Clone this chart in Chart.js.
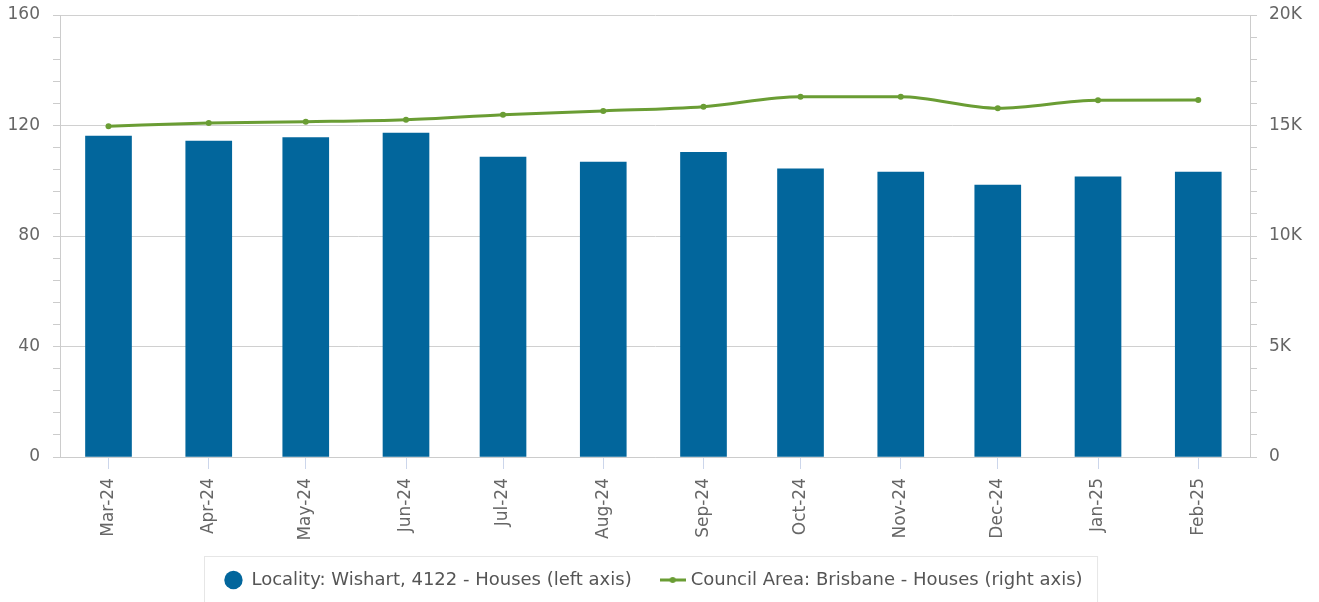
<!DOCTYPE html>
<html>
<head>
<meta charset="utf-8">
<script src="https://cdn.jsdelivr.net/npm/chart.js@4/dist/chart.umd.min.js"></script>
<style>
  html, body { margin: 0; padding: 0; background: #fff; }
  #wrap { width: 1319px; height: 602px; }
</style>
</head>
<body>
<div id="wrap"><canvas id="chart"></canvas></div>
<script>
// months shown on the x axis, and the date each one sits on
var months = ['Mar-24', 'Apr-24', 'May-24', 'Jun-24', 'Jul-24', 'Aug-24',
              'Sep-24', 'Oct-24', 'Nov-24', 'Dec-24', 'Jan-25', 'Feb-25'];
var monthDates = ['2024-03-01', '2024-04-01', '2024-05-01', '2024-06-01', '2024-07-01', '2024-08-01',
                  '2024-09-01', '2024-10-01', '2024-11-01', '2024-12-01', '2025-01-01', '2025-02-01'];

// Locality: Wishart, 4122 - Houses (left axis)
var localityValues = [116.2, 114.4, 115.6, 117.3, 108.6, 106.8, 110.3, 104.3, 103.1, 98.4, 101.4, 103.1];
// Council Area: Brisbane - Houses (right axis)
var councilValues = [14970, 15110, 15170, 15260, 15490, 15660, 15850, 16300, 16300, 15780, 16140, 16150];

var leftTicks = [0, 40, 80, 120, 160];
var rightTicks = [0, 5000, 10000, 15000, 20000];

var DAY = 86400000;
var dayNums = monthDates.map(function (d) { return Date.parse(d) / DAY; });

function toPoints(values) {
  return values.map(function (v, i) { return { x: dayNums[i], y: v }; });
}

Chart.defaults.font.family = "'DejaVu Sans', sans-serif";

var green = '#6a9d34';
var blue = '#02669c';

// small image used as the legend marker for the line series
function lineMarker() {
  var c = document.createElement('canvas');
  c.width = 26; c.height = 8;
  var g = c.getContext('2d');
  g.strokeStyle = green;
  g.lineWidth = 3;
  g.beginPath(); g.moveTo(0, 4); g.lineTo(26, 4); g.stroke();
  g.fillStyle = green;
  g.beginPath(); g.arc(13, 4, 3, 0, Math.PI * 2); g.fill();
  return c;
}
var marker = lineMarker();

// box round the legend
var legendBox = {
  id: 'legendBox',
  afterDraw: function (chart) {
    var boxes = chart.legend.legendHitBoxes;
    if (!boxes || !boxes.length) return;
    var left = Math.min.apply(null, boxes.map(function (b) { return b.left; }));
    var right = Math.max.apply(null, boxes.map(function (b) { return b.left + b.width; }));
    var mid = boxes[0].top + boxes[0].height / 2;
    var ctx = chart.ctx;
    ctx.save();
    ctx.strokeStyle = '#e6e6e6';
    ctx.lineWidth = 1;
    ctx.strokeRect(Math.round(left) - 19.5, Math.round(mid) - 23.5, right - left + 35, 60);
    ctx.restore();
  }
};

// y axes: keep the label padding out of the top/bottom layout space
function noVertPadding(scale) {
  scale.paddingTop = 0;
  scale.paddingBottom = 0;
}

var grey = '#666666';
var gridGrey = '#d0d0d0';

new Chart(document.getElementById('chart'), {
  data: {
    datasets: [{
      type: 'line',
      label: 'Council Area: Brisbane - Houses (right axis)',
      data: toPoints(councilValues),
      yAxisID: 'y1',
      borderColor: green,
      backgroundColor: green,
      borderWidth: 3,
      pointRadius: 3,
      pointBackgroundColor: green,
      pointBorderWidth: 0,
      cubicInterpolationMode: 'monotone',
      order: 0
    }, {
      type: 'bar',
      label: 'Locality: Wishart, 4122 - Houses (left axis)',
      data: toPoints(localityValues),
      yAxisID: 'y',
      backgroundColor: blue,
      borderWidth: 0,
      barThickness: 46,
      pointStyle: 'circle',
      order: 1
    }]
  },
  options: {
    responsive: true,
    maintainAspectRatio: false,
    animation: false,
    layout: { padding: { top: 15, left: 0, right: 12, bottom: 3 } },
    plugins: {
      tooltip: { enabled: false },
      legend: {
        position: 'bottom',
        reverse: true,
        labels: {
          usePointStyle: true,
          boxWidth: 24,
          boxHeight: 13,
          padding: 32,
          color: '#555555',
          font: { size: 18 },
          generateLabels: function (chart) {
            var items = Chart.defaults.plugins.legend.labels.generateLabels(chart);
            items.forEach(function (it) {
              it.pointStyle = it.datasetIndex === 0 ? marker : 'circle';
              it.lineWidth = 0;
            });
            return items;
          }
        }
      }
    },
    scales: {
      x: {
        type: 'linear',
        offset: false,
        min: dayNums[0] - 15,
        max: dayNums[dayNums.length - 1] + 16,
        afterBuildTicks: function (scale) {
          scale.ticks = dayNums.map(function (v) { return { value: v }; });
        },
        afterFit: function (scale) { scale.height = 82; },
        border: { display: true, color: '#cccccc' },
        grid: { offset: false, drawOnChartArea: false, drawTicks: true, tickLength: 12, tickColor: '#ccd6eb' },
        ticks: {
          autoSkip: false,
          minRotation: 90,
          maxRotation: 90,
          color: grey,
          padding: 9,
          font: { size: 17 },
          callback: function (value, index) { return months[index]; }
        }
      },
      y: {
        position: 'left',
        min: 0,
        max: 160,
        afterFit: function (scale) { scale.width = 60; noVertPadding(scale); },
        afterBuildTicks: function (scale) {
          var t = [];
          for (var v = 0; v <= 160; v += 8) t.push({ value: v });
          scale.ticks = t;
        },
        border: { display: true, color: '#cccccc' },
        grid: {
          tickLength: 7,
          tickColor: '#cccccc',
          color: function (ctx) {
            return ctx.tick && leftTicks.indexOf(ctx.tick.value) >= 0 ? gridGrey : 'rgba(0,0,0,0)';
          }
        },
        ticks: {
          autoSkip: false,
          color: grey,
          padding: 13,
          font: { size: 17 },
          callback: function (value) { return leftTicks.indexOf(value) >= 0 ? value : ''; }
        }
      },
      y1: {
        position: 'right',
        min: 0,
        max: 20000,
        afterFit: function (scale) { scale.width = 57; noVertPadding(scale); },
        afterBuildTicks: function (scale) {
          var t = [];
          for (var v = 0; v <= 20000; v += 1000) t.push({ value: v });
          scale.ticks = t;
        },
        border: { display: true, color: '#cccccc' },
        grid: { drawOnChartArea: false, tickLength: 7, tickColor: '#cccccc' },
        ticks: {
          autoSkip: false,
          color: grey,
          padding: 12,
          font: { size: 17 },
          callback: function (value) {
            if (rightTicks.indexOf(value) < 0) return '';
            return value === 0 ? '0' : (value / 1000) + 'K';
          }
        }
      }
    }
  },
  plugins: [legendBox]
});
</script>
</body>
</html>
